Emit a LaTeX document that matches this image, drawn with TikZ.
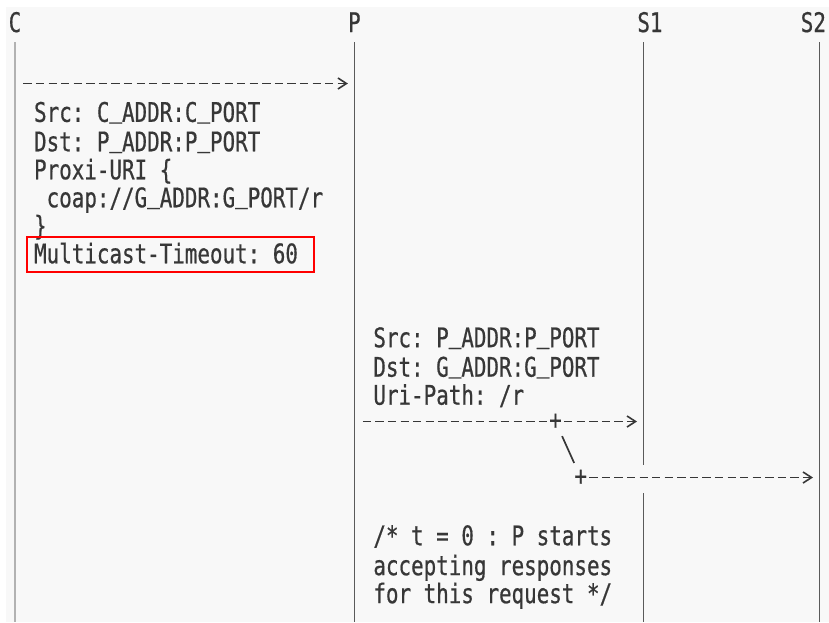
\documentclass[tikz,border=0pt]{standalone}
\usepackage{fontspec}
\setmonofont[FakeStretch=0.773, FakeBold=0.6]{DejaVu Sans Mono}
\usetikzlibrary{positioning, arrows.meta}

\definecolor{paper}{RGB}{248,248,248}
\definecolor{inkgray}{RGB}{55,55,55}
\definecolor{linegray}{RGB}{90,90,90}

% underscore sitting on the baseline, as in the original rendering
\newcommand{\usc}{\raisebox{0.17em}{\_}}

\begin{document}
\begin{tikzpicture}[
x=1pt, y=-1pt,
mono/.style={inner sep=0, text=inkgray, font=\ttfamily\fontsize{27}{28}\selectfont},
txt/.style={mono, align=left, anchor=north west},
lbl/.style={mono, anchor=base},
lifeline/.style={line width=1.5pt, draw=linegray},
dashline/.style={line width=1.5pt, draw=inkgray, dash pattern=on 8.3pt off 4.27pt, dash phase=10.47pt},
msg/.style={dashline, -{Straight Barb[length=8.5pt, width=11pt, line width=1.6pt]}, shorten >=6.5pt},
slash/.style={line width=1.7pt, draw=inkgray, shorten <=16pt, shorten >=16pt},
hilite/.style={draw=red, line width=2pt}
]
\useasboundingbox (0,0) rectangle (829,622);
\fill[paper] (6,7) rectangle (829,622);

% lifeline labels
\node[lbl] (lblC) at (15,32) {C};
\node[lbl] (lblP) at (354.4,32) {P};
\node[lbl, anchor=base west] (lblS1) at (637.2,32) {S1};
\node[lbl, anchor=base west] (lblS2) at (800.6,32) {S2};

% lifelines
\coordinate (cTop) at (15,42);
\coordinate (pTop) at (354.4,42);
\coordinate (s1Top) at (643.5,42);
\coordinate (s2Top) at (819.5,42);
\coordinate (s1GapA) at (643.5,465);
\coordinate (s1GapB) at (643.5,493);

\draw[lifeline, draw=gray!60, line width=2.6pt] (cTop) -- (cTop |- 0,622);
\draw[lifeline] (pTop) -- (pTop |- 0,622);
\draw[lifeline] (s1Top) -- (s1GapA);
\draw[lifeline] (s1GapB) -- (s1Top |- 0,622);
\draw[lifeline] (s2Top) -- (s2Top |- 0,622);

% C -> P request
\coordinate (reqStart) at (21.3,83.5);
\draw[msg] (reqStart) -- (reqStart -| pTop);

\node[txt] (reqText) at (33.9,101.6) {\strut Src: C\usc ADDR:C\usc PORT\\
Dst: P\usc ADDR:P\usc PORT\\
Proxi-URI \{\\
\ coap://G\usc ADDR:G\usc PORT/r\\
\}\\
Multicast-Timeout: 60};
\draw[hilite] (26.7,237.3) rectangle (314,271.7);

% P -> group multicast
\node[txt] (mcText) at (373.2,327) {\strut Src: P\usc ADDR:P\usc PORT\\
Dst: G\usc ADDR:G\usc PORT\\
Uri-Path: /r};

\coordinate (mcStart) at (360.7,421.5);
\node[mono] (fork1) at (555.5,421.5) {+};
\node[mono] (fork2) at (580.7,477.5) {+};

\draw[dashline] (mcStart) -- (fork1);
\draw[msg] (fork1) -- (fork1 -| s1Top);
\draw[slash] (fork1.center) -- (fork2.center);
\draw[msg] (fork2) -- (fork2 -| s2Top);

\node[txt] (noteText) at (373.2,525) {\strut /* t = 0 : P starts\\
accepting responses\\
for this request */};

\end{tikzpicture}
\end{document}
